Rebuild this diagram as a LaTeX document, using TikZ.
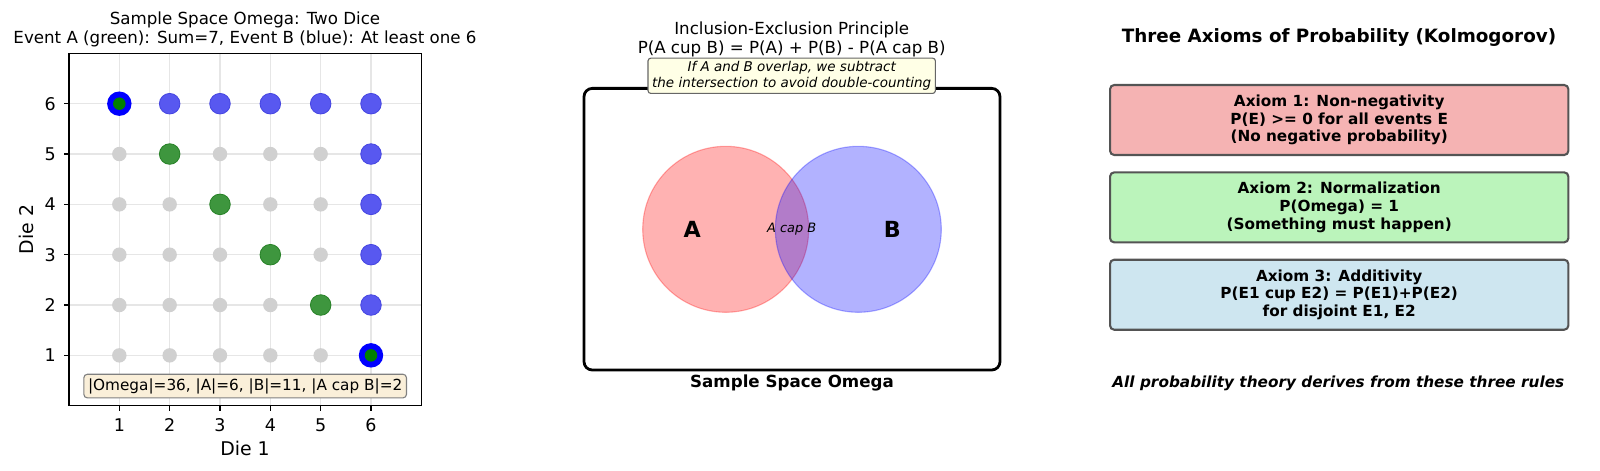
\documentclass[tikz,border=0pt]{standalone}
\usepackage{fontspec}
\setmainfont{DejaVu Sans}
\usetikzlibrary{positioning}

\definecolor{gridgray}{RGB}{230,230,230}
\definecolor{dotgray}{RGB}{208,208,208}
\definecolor{dotblue}{RGB}{88,88,240}
\definecolor{edgeblue}{RGB}{70,70,225}
\definecolor{dotgreen}{RGB}{62,150,62}
\definecolor{edgegreen}{RGB}{40,130,40}
\definecolor{countfill}{RGB}{250,239,217}
\definecolor{notefill}{RGB}{255,255,230}
\definecolor{boxred}{RGB}{245,179,179}
\definecolor{boxgreen}{RGB}{187,244,187}
\definecolor{boxblue}{RGB}{206,230,240}
\tikzstyle{gridline} = [gridgray,line width=0.8pt]

\begin{document}
\begin{tikzpicture}[x=0.72pt,y=-0.72pt,
    plottitle/.style={align=center,font=\fontsize{12}{13.4}\selectfont},
    ticklabel/.style={font=\fontsize{12.6}{14}\selectfont,inner sep=0pt},
    axlabel/.style={font=\fontsize{13.6}{15}\selectfont},
    greydot/.style={fill=dotgray},
    bdot/.style={fill=dotblue,draw=edgeblue,line width=0.6pt},
    adot/.style={fill=dotgreen,draw=edgegreen,line width=0.6pt},
    countbox/.style={draw=black!50,fill=countfill,rounded corners=2.5pt,line width=0.8pt,inner sep=3pt,font=\fontsize{11}{13}\selectfont},
    setcircle/.style={circle,minimum size=119.5pt,inner sep=0pt,line width=0.8pt},
    notebox/.style={draw=black!60,fill=notefill,rounded corners=2pt,line width=0.8pt,align=center,inner xsep=3pt,inner ysep=2pt,font=\fontsize{9.7}{12}\selectfont\itshape},
    axiombox/.style={draw=black!67,line width=1.5pt,rounded corners=3pt,minimum width=330pt,minimum height=50.4pt,align=center,font=\fontsize{11}{12.7}\selectfont\bfseries}]
\useasboundingbox (0,0) rectangle (1600,471);

% ---- sample space of two dice
\node[plottitle] (dicetitle) at (245,29.5) {Sample Space Omega: Two Dice\\Event A (green): Sum=7, Event B (blue): At least one 6};

\begin{scope}[shift={(69,405.7)},x=36.24pt,y=36.24pt]
  \foreach \k in {1,...,6} {
    \draw[gridline] (0,\k) -- (7,\k);
    \draw[gridline] (\k,0) -- (\k,7);
    \draw[line width=0.8pt] (\k,0) -- ++(0,-3.5pt);
    \draw[line width=0.8pt] (0,\k) -- ++(-3.5pt,0);
    \node[ticklabel] (xt\k) at (\k,0) [yshift=-13.9pt] {\k};
    \node[ticklabel,anchor=east] (yt\k) at (0,\k) [xshift=-9.4pt] {\k};
  }
  \draw[line width=0.8pt] (0,0) rectangle (7,7);
  \foreach \i in {1,...,6}
    \foreach \j in {1,...,6}
      \fill[greydot] (\i,\j) circle[radius=5.2pt];
  % event B: at least one 6
  \foreach \i in {2,...,6} \filldraw[bdot] (\i,6) circle[radius=7.4pt];
  \foreach \j in {2,...,5} \filldraw[bdot] (6,\j) circle[radius=7.4pt];
  % event A: sum 7
  \foreach \i in {2,...,5} \filldraw[adot] (\i,7-\i) circle[radius=7.4pt];
  % both
  \foreach \i/\j in {1/6,6/1} {
    \fill[blue] (\i,\j) circle[radius=8.8pt];
    \fill[green!50!black] (\i,\j) circle[radius=4.5pt];
  }
  \node[countbox] (counts) at (3.5,0.39) {|Omega|=36, |A|=6, |B|=11, |A cap B|=2};
\end{scope}

\node[axlabel] (xlab) at (245,448) {Die 1};
\node[axlabel,rotate=90] (ylab) at (26.7,229.5) {Die 2};

% ---- inclusion-exclusion
\node[plottitle] (ietitle) at (791.7,39.5) {Inclusion-Exclusion Principle\\P(A cup B) = P(A) + P(B) - P(A cap B)};
\node[draw,line width=2pt,rounded corners=6pt,minimum width=299.5pt,minimum height=202.8pt] (omega) at (792,229.2) {};
\node[setcircle,fill=red,fill opacity=0.3,draw=red,draw opacity=0.3] (setA) at (725.7,229.3) {};
\node[setcircle,fill=blue,fill opacity=0.3,draw=blue,draw opacity=0.3] (setB) at (858.3,229.3) {};
\node[font=\fontsize{16}{18}\selectfont\bfseries] (labA) at (692.3,229.3) {A};
\node[font=\fontsize{16}{18}\selectfont\bfseries] (labB) at (892.3,229.3) {B};
\node[font=\fontsize{9.3}{11}\selectfont\itshape] (labAB) at (791.7,229.3) {A cap B};
\node[font=\fontsize{12}{14}\selectfont\bfseries,below=-1pt of omega] (omegalab) {Sample Space Omega};
\node[notebox] (note) at (791.7,75.8) {If A and B overlap, we subtract\\the intersection to avoid double-counting};

% ---- axioms
\node[font=\fontsize{13.2}{15}\selectfont\bfseries] (axtitle) at (1339,38) {Three Axioms of Probability (Kolmogorov)};
\node[axiombox,fill=boxred] (ax1) at (1339.2,120) {Axiom 1: Non-negativity\\P(E) >= 0 for all events E\\(No negative probability)};
\node[axiombox,fill=boxgreen,below=11pt of ax1] (ax2) {Axiom 2: Normalization\\P(Omega) = 1\\(Something must happen)};
\node[axiombox,fill=boxblue,below=11pt of ax2] (ax3) {Axiom 3: Additivity\\P(E1 cup E2) = P(E1)+P(E2)\\for disjoint E1, E2};
\node[font=\fontsize{11}{13}\selectfont\bfseries\itshape] (rules) at (1338.3,383.3) {All probability theory derives from these three rules};
\end{tikzpicture}
\end{document}
